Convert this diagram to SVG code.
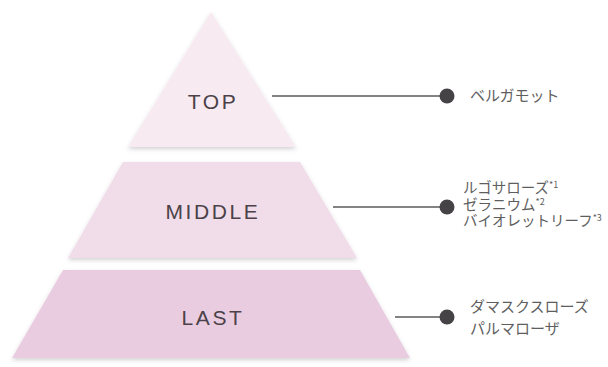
<svg xmlns="http://www.w3.org/2000/svg" width="608" height="367" viewBox="0 0 608 367">
<defs>
<filter id="sh" x="-10%" y="-10%" width="120%" height="130%">
<feDropShadow dx="0" dy="2" stdDeviation="2" flood-color="#000" flood-opacity="0.18"/>
</filter>
</defs>
<style>
.lvl{font-family:"Liberation Sans",Arial,sans-serif;font-size:21px;fill:#4a4248;letter-spacing:2.6px;text-anchor:middle}
.note{font-family:"Noto Sans CJK JP","Noto Sans",sans-serif;font-size:15px;fill:#5e5e5e}
.mnote{font-size:14.5px}
.sup{font-size:9px}
.conn{stroke:#5a5a5a;stroke-width:1.5;fill:none}
.dot{fill:#454345}
</style>
<rect width="608" height="367" fill="#fff"/>
<g id="top">
<polygon points="211,12 128,147 296,147" fill="#f7eaf1" filter="url(#sh)"/>
<text class="lvl" x="213" y="109">TOP</text>
</g>
<g id="middle">
<polygon points="123,162 300,162 357,258 68,258" fill="#f1dce9" filter="url(#sh)"/>
<text class="lvl" x="213" y="219">MIDDLE</text>
</g>
<g id="last">
<polygon points="63,270 360,270 410,358 12,358" fill="#eacce1" filter="url(#sh)"/>
<text class="lvl" x="213" y="325">LAST</text>
</g>
<g id="connectors">
<line class="conn" x1="272" y1="96" x2="447" y2="96"/>
<circle class="dot" cx="447" cy="96" r="7.5"/>
<line class="conn" x1="333" y1="207" x2="447" y2="207"/>
<circle class="dot" cx="447" cy="207" r="7.5"/>
<line class="conn" x1="395" y1="317" x2="447" y2="317"/>
<circle class="dot" cx="447" cy="317" r="7.5"/>
</g>
<g id="top-notes">
<text class="note" x="470" y="101">ベルガモット</text>
</g>
<g id="middle-notes">
<text class="note mnote" x="463" y="193">ルゴサローズ<tspan class="sup" dy="-5">*1</tspan></text>
<text class="note mnote" x="463" y="209.5">ゼラニウム<tspan class="sup" dy="-5">*2</tspan></text>
<text class="note mnote" x="463" y="226">バイオレットリーフ<tspan class="sup" dy="-5">*3</tspan></text>
</g>
<g id="last-notes">
<text class="note" x="470" y="312">ダマスクスローズ</text>
<text class="note" x="470" y="334">パルマローザ</text>
</g>
</svg>
